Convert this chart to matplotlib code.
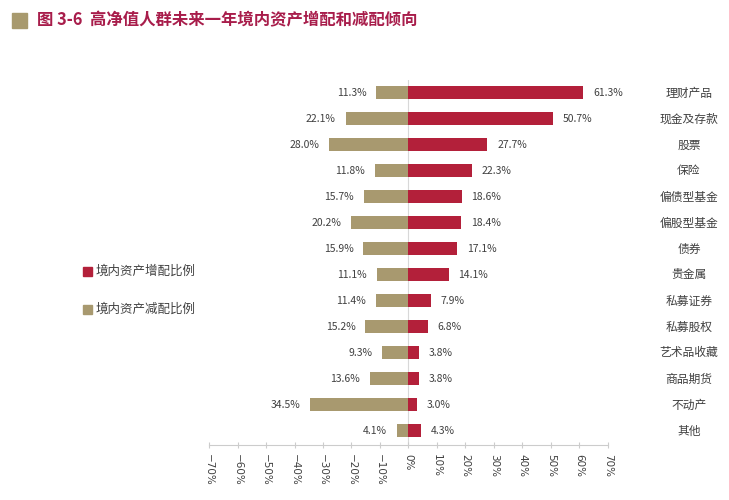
import matplotlib
matplotlib.use('Agg')
import matplotlib.pyplot as plt
from matplotlib.patches import Rectangle

plt.rcParams['font.family'] = ['Noto Sans CJK SC', 'DejaVu Sans']

# data
categories = ['理财产品', '现金及存款', '股票', '保险', '偏债型基金', '偏股型基金', '债券',
              '贵金属', '私募证券', '私募股权', '艺术品收藏', '商品期货', '不动产', '其他']
increase = [61.3, 50.7, 27.7, 22.3, 18.6, 18.4, 17.1, 14.1, 7.9, 6.8, 3.8, 3.8, 3.0, 4.3]
decrease = [11.3, 22.1, 28.0, 11.8, 15.7, 20.2, 15.9, 11.1, 11.4, 15.2, 9.3, 13.6, 34.5, 4.1]
ticks = list(range(-70, 80, 10))

red = '#B3203A'
tan = '#A8996F'
title_col = '#A81D4B'
txt = '#404040'

fig = plt.figure(figsize=(7.29, 5.0), dpi=100)
ax = fig.add_axes([209/729, 1-445/500, 399/729, 365/500])

y = list(range(len(categories)))
ax.barh(y, increase, height=0.5, color=red, zorder=2)
ax.barh(y, [-d for d in decrease], height=0.5, color=tan, zorder=2)

for i in y:
    ax.annotate(f'{increase[i]:.1f}%', (increase[i], i), xytext=(7, 0), textcoords='offset points',
                ha='left', va='center', fontsize=7.5, color=txt)
    ax.annotate(f'{decrease[i]:.1f}%', (-decrease[i], i), xytext=(-7, 0), textcoords='offset points',
                ha='right', va='center', fontsize=7.5, color=txt)
    ax.text((689-209)/399, i, categories[i], transform=ax.get_yaxis_transform(),
            ha='center', va='center', fontsize=8.5, color=txt)

ax.axvline(0, color='#d8d8d8', lw=0.8, zorder=1)
ax.set_xlim(-70, 70)
ax.set_ylim(13.54, -0.5)
ax.set_xticks(ticks)
ax.set_xticklabels([('\u2212' if t < 0 else '') + f'{abs(t)}%' for t in ticks],
                   rotation=-90, fontsize=7.5, color=txt, family=['DejaVu Sans'])
ax.tick_params(axis='x', direction='inout', length=5, color='#cccccc', pad=4)
ax.set_yticks([])
for s in ['top', 'right', 'left']:
    ax.spines[s].set_visible(False)
ax.spines['bottom'].set_color('#cccccc')
ax.spines['bottom'].set_linewidth(0.8)

# legend
fig.patches.append(Rectangle((83/729, 1-276/500), 9/729, 9/500, color=red, transform=fig.transFigure))
fig.text(96/729, 1-271/500, '境内资产增配比例', fontsize=9, color=txt, va='center')
fig.patches.append(Rectangle((83/729, 1-314/500), 9/729, 9/500, color=tan, transform=fig.transFigure))
fig.text(96/729, 1-309/500, '境内资产减配比例', fontsize=9, color=txt, va='center')

# title
fig.patches.append(Rectangle((12/729, 1-28/500), 15/729, 15/500, color='#A89A6E', transform=fig.transFigure))
fig.text(37/729, 1-20/500, '图 3-6  高净值人群未来一年境内资产增配和减配倾向', fontsize=11.8,
         color=title_col, va='center', fontweight='bold')

fig.savefig('out.png', dpi=100)
